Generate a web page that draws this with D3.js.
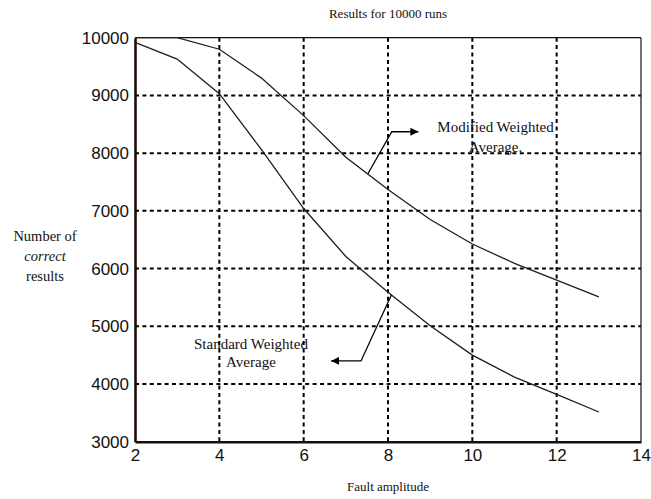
<!DOCTYPE html>
<html>
<head>
<meta charset="utf-8">
<script src="https://cdn.jsdelivr.net/npm/d3@7"></script>
<style>
  html, body { margin: 0; padding: 0; background: #fff; }
  svg { display: block; }
</style>
</head>
<body>
<svg id="chart" width="651" height="499"></svg>
<script>
// ---- data ----
const faultAmplitude = [2, 3, 4, 5, 6, 7, 8, 9, 10, 11, 12, 13];
const modifiedWeighted = [10000, 10000, 9800, 9300, 8650, 7930, 7370, 6850, 6425, 6090, 5800, 5510];
const standardWeighted = [9920, 9630, 9030, 8060, 7040, 6210, 5590, 5010, 4500, 4120, 3820, 3515];
const xTicks = [2, 4, 6, 8, 10, 12, 14];
const yTicks = [3000, 4000, 5000, 6000, 7000, 8000, 9000, 10000];
const titleText = "Results for 10000 runs";
const xLabel = "Fault amplitude";
const yLabelLines = ["Number of", "correct", "results"];
const modifiedLabel = ["Modified Weighted", "Average."];
const standardLabel = ["Standard Weighted", "Average"];

(function () {
// ---- layout ----
const svg = d3.select("#chart");
const pL = 135, pR = 641, pT = 37.7, pB = 441.7;
const x = d3.scaleLinear().domain([2, 14]).range([pL, pR]);
const y = d3.scaleLinear().domain([3000, 10000]).range([pB, pT]);
const ink = "#1c0c0c";

// grid
const g = svg.append("g");
g.selectAll("line.vg").data(xTicks.slice(1, -1)).join("line")
  .attr("x1", d => x(d)).attr("x2", d => x(d))
  .attr("y1", pT).attr("y2", pB)
  .attr("stroke", "#000").attr("stroke-width", 2).attr("stroke-dasharray", "4,3.4");
g.selectAll("line.hg").data(yTicks.slice(1, -1)).join("line")
  .attr("x1", pL).attr("x2", pR)
  .attr("y1", d => y(d)).attr("y2", d => y(d))
  .attr("stroke", "#000").attr("stroke-width", 2).attr("stroke-dasharray", "4,3.4");

// frame: top & right thin, left & bottom thick
svg.append("line").attr("x1", pL).attr("x2", pR).attr("y1", pT).attr("y2", pT)
  .attr("stroke", ink).attr("stroke-width", 1.2);
svg.append("line").attr("x1", pR).attr("x2", pR).attr("y1", pT).attr("y2", pB)
  .attr("stroke", ink).attr("stroke-width", 1.2);

// axes
const xAxis = d3.axisBottom(x).tickValues(xTicks).tickSize(0).tickPadding(7).tickFormat(d3.format("d"));
const yAxis = d3.axisLeft(y).tickValues(yTicks).tickSize(0).tickPadding(6).tickFormat(d3.format("d"));
const gx = svg.append("g").attr("transform", `translate(0,${pB})`).call(xAxis);
const gy = svg.append("g").attr("transform", `translate(${pL},0)`).call(yAxis);
[gx, gy].forEach(a => {
  a.select(".domain").attr("stroke", ink).attr("stroke-width", 2.6);
  a.selectAll("text").attr("font-family", "Liberation Sans, Arial, sans-serif")
    .attr("font-size", 17).attr("fill", "#111");
});

// curves
const line = d3.line().x((d, i) => x(faultAmplitude[i])).y(d => y(d));
svg.append("path").datum(modifiedWeighted).attr("d", line)
  .attr("fill", "none").attr("stroke", "#2a1818").attr("stroke-width", 1.3);
svg.append("path").datum(standardWeighted).attr("d", line)
  .attr("fill", "none").attr("stroke", "#2a1818").attr("stroke-width", 1.3);

// helper: value of a series at fractional x
function at(series, xv) {
  return d3.scaleLinear().domain(faultAmplitude).range(series)(xv);
}

// arrowhead
svg.append("defs").append("marker").attr("id", "ah")
  .attr("viewBox", "0 0 10 10").attr("refX", 10).attr("refY", 5)
  .attr("markerWidth", 8).attr("markerHeight", 8).attr("markerUnits", "userSpaceOnUse")
  .attr("orient", "auto")
  .append("path").attr("d", "M0,0L10,5L0,10Z").attr("fill", "#000");

// annotation arrows (data coordinates)
const modArrow = [[7.52, at(modifiedWeighted, 7.52)], [8.09, 8370], [8.72, 8370]];
const stdArrow = [[8.08, at(standardWeighted, 8.08)], [7.36, 4400], [6.65, 4400]];
const aLine = d3.line().x(d => x(d[0])).y(d => y(d[1]));
[modArrow, stdArrow].forEach(p => {
  svg.append("path").attr("d", aLine(p)).attr("fill", "none")
    .attr("stroke", "#000").attr("stroke-width", 1.3).attr("marker-end", "url(#ah)");
});

// annotation texts
const serif = "Liberation Serif, Times New Roman, serif";
function textBlock(lines, cx, firstY, dy, size, italicIdx) {
  lines.forEach((t, i) => {
    svg.append("text").attr("x", cx).attr("y", firstY + i * dy)
      .attr("text-anchor", "middle").attr("font-family", serif)
      .attr("font-size", size).attr("fill", "#111")
      .attr("font-style", i === italicIdx ? "italic" : "normal")
      .text(t);
  });
}
textBlock(modifiedLabel, x(10.55), y(8370) + 0.5, 20, 15, -1);
textBlock(standardLabel, x(4.75), y(4605), 18, 15, -1);

// title and axis labels
svg.append("text").attr("x", (pL + pR) / 2).attr("y", 18)
  .attr("text-anchor", "middle").attr("font-family", serif).attr("font-size", 13)
  .attr("fill", "#111").text(titleText);
svg.append("text").attr("x", (pL + pR) / 2).attr("y", 491)
  .attr("text-anchor", "middle").attr("font-family", serif).attr("font-size", 13)
  .attr("fill", "#111").text(xLabel);
textBlock(yLabelLines, 45, 241, 20, 14.5, 1);
})();
</script>
</body>
</html>
